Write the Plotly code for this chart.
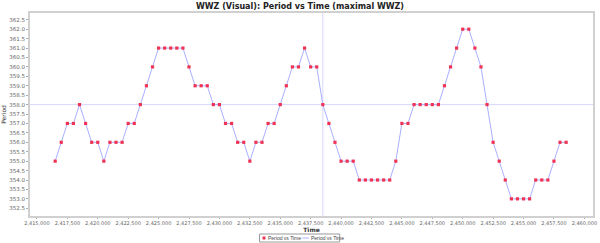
import plotly.graph_objects as go

times = [
    2416500, 2417000, 2417500, 2418000, 2418500, 2419000, 2419500, 2420000, 2420500, 2421000,
    2421500, 2422000, 2422500, 2423000, 2423500, 2424000, 2424500, 2425000, 2425500, 2426000,
    2426500, 2427000, 2427500, 2428000, 2428500, 2429000, 2429500, 2430000, 2430500, 2431000,
    2431500, 2432000, 2432500, 2433000, 2433500, 2434000, 2434500, 2435000, 2435500, 2436000,
    2436500, 2437000, 2437500, 2438000, 2438500, 2439000, 2439500, 2440000, 2440500, 2441000,
    2441500, 2442000, 2442500, 2443000, 2443500, 2444000, 2444500, 2445000, 2445500, 2446000,
    2446500, 2447000, 2447500, 2448000, 2448500, 2449000, 2449500, 2450000, 2450500, 2451000,
    2451500, 2452000, 2452500, 2453000, 2453500, 2454000, 2454500, 2455000, 2455500, 2456000,
    2456500, 2457000, 2457500, 2458000, 2458500,
]
periods = [
    355, 356, 357, 357, 358, 357, 356, 356, 355, 356,
    356, 356, 357, 357, 358, 359, 360, 361, 361, 361,
    361, 361, 360, 359, 359, 359, 358, 358, 357, 357,
    356, 356, 355, 356, 356, 357, 357, 358, 359, 360,
    360, 361, 360, 360, 358, 357, 356, 355, 355, 355,
    354, 354, 354, 354, 354, 354, 355, 357, 357, 358,
    358, 358, 358, 358, 359, 360, 361, 362, 362, 361,
    360, 358, 356, 355, 354, 353, 353, 353, 353, 354,
    354, 354, 355, 356, 356,
]
series_name = "Period vs Time"
title_text = "WWZ (Visual): Period vs Time (maximal WWZ)"
x_ticks = [2415000, 2417500, 2420000, 2422500, 2425000, 2427500, 2430000, 2432500,
           2435000, 2437500, 2440000, 2442500, 2445000, 2447500, 2450000, 2452500,
           2455000, 2457500, 2460000]
y_ticks = [352.5 + 0.5 * k for k in range(21)]
crosshair_index = 44

FONT = "DejaVu Sans"
LEG_FONT = "Liberation Sans"
MARKER_COLOR = "#ee3355"
LINE_COLOR = "#aab0ff"
W, H = 600, 243
ML, MR, MT, MB = 28, 3, 13, 27
PW, PH = W - ML - MR, H - MT - MB


def px(x):
    return (x - ML) / PW


def py(y):
    return (H - MB - y) / PH


fig = go.Figure()
fig.add_trace(go.Scatter(
    x=times, y=periods, mode="lines", name=series_name,
    line=dict(color=LINE_COLOR, width=1), showlegend=False,
))
fig.add_trace(go.Scatter(
    x=times, y=periods, mode="markers", name=series_name,
    marker=dict(symbol="square", size=3.2, color=MARKER_COLOR, line=dict(width=0)),
    showlegend=False,
))

cx = times[crosshair_index]
cy = periods[crosshair_index]
fig.add_shape(type="line", xref="x", yref="paper", x0=cx, x1=cx, y0=0, y1=1,
              line=dict(color="#d8d8ff", width=1), layer="below")
fig.add_shape(type="line", xref="paper", yref="y", x0=0, x1=1, y0=cy, y1=cy,
              line=dict(color="#d8d8ff", width=1), layer="below")

# custom compact legend (like the reference)
fig.add_shape(type="rect", xref="paper", yref="paper",
              x0=px(260), x1=px(341), y0=py(242), y1=py(234),
              line=dict(color="#999999", width=1), fillcolor="white")
fig.add_shape(type="rect", xref="paper", yref="paper",
              x0=px(263), x1=px(266), y0=py(239.5), y1=py(236.5),
              line=dict(width=0), fillcolor=MARKER_COLOR)
fig.add_shape(type="line", xref="paper", yref="paper",
              x0=px(303), x1=px(310), y0=py(238), y1=py(238),
              line=dict(color=LINE_COLOR, width=1))
fig.add_annotation(text=series_name, xref="paper", yref="paper", x=px(266.5), y=py(238),
                   xanchor="left", yanchor="middle", showarrow=False,
                   font=dict(family=LEG_FONT, size=5, color="#444444"))
fig.add_annotation(text=series_name, xref="paper", yref="paper", x=px(310), y=py(238),
                   xanchor="left", yanchor="middle", showarrow=False,
                   font=dict(family=LEG_FONT, size=5, color="#444444"))

fig.update_layout(
    width=W, height=H,
    margin=dict(l=ML, r=MR, t=MT, b=MB),
    paper_bgcolor="white", plot_bgcolor="white",
    font=dict(family=FONT, size=6, color="#555555"),
    title=dict(text="<b>" + title_text + "</b>", x=0.5, xanchor="center",
               y=0.985, yanchor="top", font=dict(family=FONT, size=8, color="#222222")),
    showlegend=False,
    xaxis=dict(
        range=[2414430, 2460710], tickvals=x_ticks, tickformat=",d", tickangle=0,
        showgrid=False, zeroline=False, showline=True, linecolor="#d0d0d0", linewidth=2,
        mirror=True, ticks="outside", ticklen=1, tickcolor="#aaaaaa",
        tickfont=dict(size=5, color="#666666"),
        title=dict(text="<b>Time</b>", font=dict(size=6, color="#333333"), standoff=0),
    ),
    yaxis=dict(
        range=[352.09, 362.86], tickvals=y_ticks, tickformat=".1f",
        showgrid=False, zeroline=False, showline=True, linecolor="#d0d0d0", linewidth=2,
        mirror=True, ticks="outside", ticklen=2, tickcolor="#aaaaaa",
        tickfont=dict(size=5.5, color="#666666"),
        title=dict(text="Period", font=dict(size=6, color="#333333"), standoff=2),
    ),
)
fig.write_html("out.html")
